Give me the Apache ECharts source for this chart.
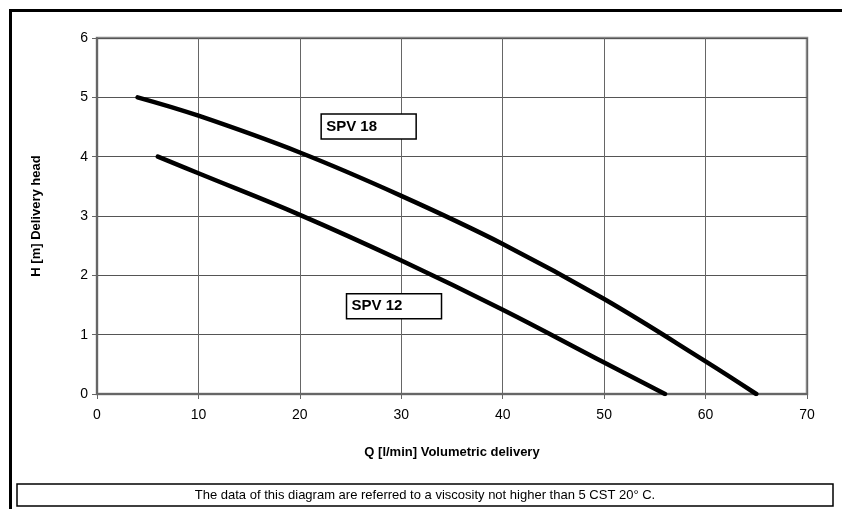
<!DOCTYPE html>
<html>
<head>
<meta charset="utf-8">
<title>SPV pump curves</title>
<script src="https://cdn.jsdelivr.net/npm/echarts@6/dist/echarts.min.js"></script>
<style>
  html, body { margin: 0; padding: 0; background: #fff; }
  #chart { width: 842px; height: 509px; }
</style>
</head>
<body>
<div id="chart"></div>
<script>
// flow Q [l/min] and head H [m]
const spv18Q = [4, 10, 20, 30, 40, 50, 60, 65];
const spv18H = [5, 4.69, 4.07, 3.34, 2.53, 1.6, 0.55, 0];
const spv12Q = [6, 10, 20, 30, 40, 50, 56];
const spv12H = [4, 3.72, 3.02, 2.25, 1.42, 0.53, 0];

// curve name boxes, anchored at their top-left corner in data units
const labelNames = ['SPV 18', 'SPV 12'];
const labelAnchors = [[22.1, 4.72], [24.6, 1.69]];

const footNote = 'The data of this diagram are referred to a viscosity not higher than 5 CST 20° C.';

const font = '"Liberation Sans", Arial, sans-serif';

const chart = echarts.init(document.getElementById('chart'));

const pairs = (xs, ys) => xs.map((x, i) => [x, ys[i]]);

const lineSeries = (name, data) => ({
  name: name,
  type: 'line',
  data: data,
  smooth: 0.4,
  showSymbol: false,
  silent: true,
  lineStyle: { color: '#000', width: 4.5, cap: 'round' },
  z: 5
});

chart.setOption({
  animation: false,
  grid: {
    left: 97,
    right: 35,
    top: 38,
    bottom: 115,
    show: true,
    borderColor: '#888',
    borderWidth: 2.5
  },
  xAxis: {
    type: 'value',
    min: 0,
    max: 70,
    interval: 10,
    name: 'Q [l/min] Volumetric delivery',
    nameLocation: 'middle',
    nameGap: 52,
    nameTextStyle: { fontFamily: font, fontWeight: 'bold', fontSize: 13, color: '#000' },
    axisLine: { show: true, lineStyle: { color: '#666', width: 2 } },
    axisTick: { show: true, length: 5, lineStyle: { color: '#666' } },
    axisLabel: { fontFamily: font, fontSize: 14, color: '#000', margin: 14 },
    splitLine: { show: true, lineStyle: { color: '#666', width: 1 } }
  },
  yAxis: {
    type: 'value',
    min: 0,
    max: 6,
    interval: 1,
    name: 'H [m] Delivery head',
    nameLocation: 'middle',
    nameGap: 54,
    nameTextStyle: { fontFamily: font, fontWeight: 'bold', fontSize: 13, color: '#000' },
    axisLine: { show: true, lineStyle: { color: '#666', width: 2 } },
    axisTick: { show: true, length: 5, lineStyle: { color: '#666' } },
    axisLabel: { fontFamily: font, fontSize: 14, color: '#000', margin: 9 },
    splitLine: { show: true, lineStyle: { color: '#555', width: 1 } }
  },
  series: [
    lineSeries('SPV 18', pairs(spv18Q, spv18H)),
    lineSeries('SPV 12', pairs(spv12Q, spv12H))
  ]
});

// boxes for the curve names, placed through the axes
const boxes = labelNames.map((name, i) => {
  const p = chart.convertToPixel({ gridIndex: 0 }, labelAnchors[i]);
  return {
    type: 'group',
    x: p[0],
    y: p[1],
    z: 10,
    children: [
      {
        type: 'rect',
        shape: { x: 0, y: 0, width: 95, height: 25 },
        style: { fill: '#fff', stroke: '#000', lineWidth: 1.5 }
      },
      {
        type: 'text',
        x: 5,
        y: 12.5,
        style: {
          text: name,
          font: 'bold 15px ' + font,
          fill: '#000',
          verticalAlign: 'middle'
        }
      }
    ]
  };
});

chart.setOption({
  graphic: [
    // outer frame (right and bottom edges fall outside the page)
    {
      type: 'rect',
      shape: { x: 10.5, y: 10.5, width: 840, height: 510 },
      style: { fill: 'none', stroke: '#000', lineWidth: 3 },
      silent: true
    },
    // foot note box
    {
      type: 'rect',
      shape: { x: 17, y: 484, width: 816, height: 22 },
      style: { fill: '#fff', stroke: '#000', lineWidth: 1.5 },
      silent: true
    },
    {
      type: 'text',
      x: 425,
      y: 495,
      style: {
        text: footNote,
        font: '13px ' + font,
        fill: '#000',
        align: 'center',
        verticalAlign: 'middle'
      },
      silent: true
    }
  ].concat(boxes)
});
</script>
</body>
</html>
